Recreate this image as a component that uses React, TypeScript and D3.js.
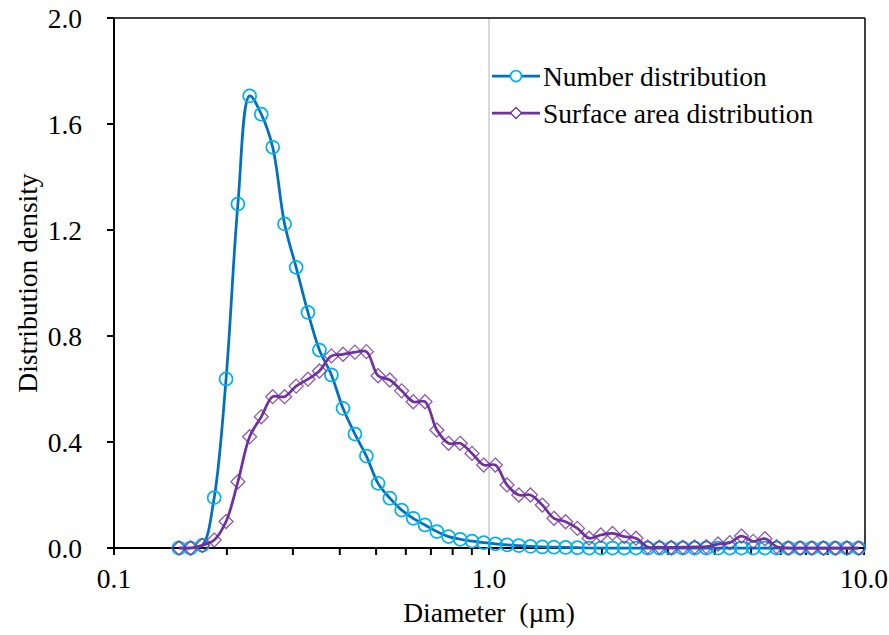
import React from "react";
import * as d3 from "d3";

const diameters = [
  0.149, 0.160, 0.172, 0.185, 0.199, 0.214, 0.230, 0.247, 0.265, 0.285,
  0.306, 0.329, 0.353, 0.380, 0.408, 0.439, 0.471, 0.506, 0.544, 0.585,
  0.628, 0.675, 0.726, 0.780, 0.838, 0.901, 0.968, 1.040, 1.117, 1.201,
  1.290, 1.387, 1.490, 1.601, 1.721, 1.849, 1.987, 2.135, 2.295, 2.466,
  2.650, 2.848, 3.060, 3.288, 3.534, 3.797, 4.081, 4.385, 4.712, 5.064,
  5.442, 5.848, 6.284, 6.753, 7.257, 7.798, 8.380, 9.005, 9.677,
];

const numberDist = [
  0, 0, 0.01, 0.19, 0.638, 1.298, 1.706, 1.637, 1.512, 1.223,
  1.059, 0.889, 0.747, 0.653, 0.527, 0.430, 0.347, 0.244, 0.188, 0.143,
  0.112, 0.087, 0.062, 0.043, 0.033, 0.026, 0.020, 0.016, 0.012, 0.009,
  0.006, 0.004, 0.003, 0.002, 0.001, 0, 0, 0, 0, 0,
  0, 0, 0, 0, 0, 0, 0, 0, 0, 0,
  0, 0, 0, 0, 0, 0, 0, 0, 0,
];

const surfaceDist = [
  0, 0, 0.01, 0.03, 0.10, 0.25, 0.42, 0.495, 0.571, 0.571,
  0.611, 0.637, 0.668, 0.725, 0.731, 0.739, 0.741, 0.65, 0.634, 0.593,
  0.552, 0.552, 0.445, 0.395, 0.395, 0.357, 0.313, 0.313, 0.238, 0.2,
  0.2, 0.162, 0.112, 0.099, 0.074, 0.037, 0.049, 0.055, 0.043, 0.037,
  0.004, 0.003, 0.002, 0.003, 0.004, 0.005, 0.015, 0.02, 0.045, 0.025,
  0.035, 0.005, 0, 0, 0, 0, 0, 0, 0,
];

const yTicks = [0, 0.4, 0.8, 1.2, 1.6, 2.0];
const xMajor = [0.1, 1, 10];
const xMajorLabels = ["0.1", "1.0", "10.0"];
const xMinor = [0.2, 0.3, 0.4, 0.5, 0.6, 0.7, 0.8, 0.9, 2, 3, 4, 5, 6, 7, 8, 9];
const seriesNames = ["Number distribution", "Surface area distribution"];

const W = 889;
const H = 635;
const L = 114, R = 864, T = 18, B = 548;
const FONT = "Liberation Serif, Times New Roman, serif";
const FS = 27.5;
const txt = { fontFamily: FONT, fontSize: FS, fill: "#000" } as const;

export default function App() {
  const x = d3.scaleLog().domain([0.1, 10]).range([L, R]);
  const y = d3.scaleLinear().domain([0, 2]).range([B, T]);
  const line = d3
    .line<number>()
    .x((_, i) => x(diameters[i]))
    .y((d) => y(d))
    .curve(d3.curveCatmullRom.alpha(0.5));

  const blueLine = "#0070C0";
  const blueMark = "#00B0F0";
  const purple = "#7030A0";

  const diamond = (cx: number, cy: number, s: number) =>
    `M${cx},${cy - s}L${cx + s},${cy}L${cx},${cy + s}L${cx - s},${cy}Z`;

  return (
    <svg
      width={W}
      height={H}
      style={{ position: "absolute", left: 0, top: 0, background: "#fff" }}
    >
      <rect x={0} y={0} width={W} height={H} fill="#fff" />
      <line x1={x(1)} x2={x(1)} y1={T} y2={B} stroke="#D9D9D9" strokeWidth={2} />
      <line x1={L} x2={R + 1} y1={T} y2={T} stroke="#000" strokeWidth={1.5} />
      <line x1={R + 1} x2={R + 1} y1={T} y2={B} stroke="#000" strokeWidth={1.5} />
      <line x1={L} x2={R + 1} y1={B} y2={B} stroke="#000" strokeWidth={2} />
      <line x1={L} x2={L} y1={T} y2={B} stroke="#000" strokeWidth={2} />
      {yTicks.map((t) => (
        <g key={"y" + t}>
          <line x1={L - 7} x2={L} y1={y(t)} y2={y(t)} stroke="#000" strokeWidth={2} />
          <text x={82} y={y(t) + 9.5} textAnchor="end" style={txt}>
            {t.toFixed(1)}
          </text>
        </g>
      ))}
      {xMajor.map((t, i) => (
        <g key={"xm" + t}>
          <line x1={x(t)} x2={x(t)} y1={B} y2={B + 7} stroke="#000" strokeWidth={2} />
          <text x={x(t)} y={588} textAnchor="middle" style={txt}>
            {xMajorLabels[i]}
          </text>
        </g>
      ))}
      {xMinor.map((t) => (
        <line key={"xn" + t} x1={x(t)} x2={x(t)} y1={B} y2={B + 7} stroke="#000" strokeWidth={2} />
      ))}
      <text x={489} y={622} textAnchor="middle" style={{ ...txt, whiteSpace: "pre" }}>
        {"Diameter  (\u00B5m)"}
      </text>
      <text
        transform={`translate(37,${(T + B) / 2}) rotate(-90)`}
        textAnchor="middle"
        style={txt}
      >
        Distribution density
      </text>

      <path d={line(numberDist) || ""} fill="none" stroke={blueLine} strokeWidth={2.75} />
      {numberDist.map((v, i) => (
        <circle
          key={"c" + i}
          cx={x(diameters[i])}
          cy={y(v)}
          r={6.5}
          fill="none"
          stroke={blueMark}
          strokeWidth={1.75}
        />
      ))}
      <path d={line(surfaceDist) || ""} fill="none" stroke={purple} strokeWidth={2.75} />
      {surfaceDist.map((v, i) => (
        <path
          key={"d" + i}
          d={diamond(x(diameters[i]), y(v), 7)}
          fill="none"
          stroke={purple}
          strokeWidth={1.3}
          opacity={0.8}
        />
      ))}

      <g>
        <line x1={492} x2={540} y1={76} y2={76} stroke={blueLine} strokeWidth={2.75} />
        <circle cx={516} cy={76} r={5.5} fill="#fff" stroke={blueMark} strokeWidth={1.75} />
        <text x={543} y={85.5} style={txt}>
          {seriesNames[0]}
        </text>
        <line x1={492} x2={540} y1={113} y2={113} stroke={purple} strokeWidth={2.75} />
        <path d={diamond(516, 113, 5.5)} fill="#fff" stroke={purple} strokeWidth={1.3} />
        <text x={543} y={122.5} style={txt}>
          {seriesNames[1]}
        </text>
      </g>
    </svg>
  );
}
